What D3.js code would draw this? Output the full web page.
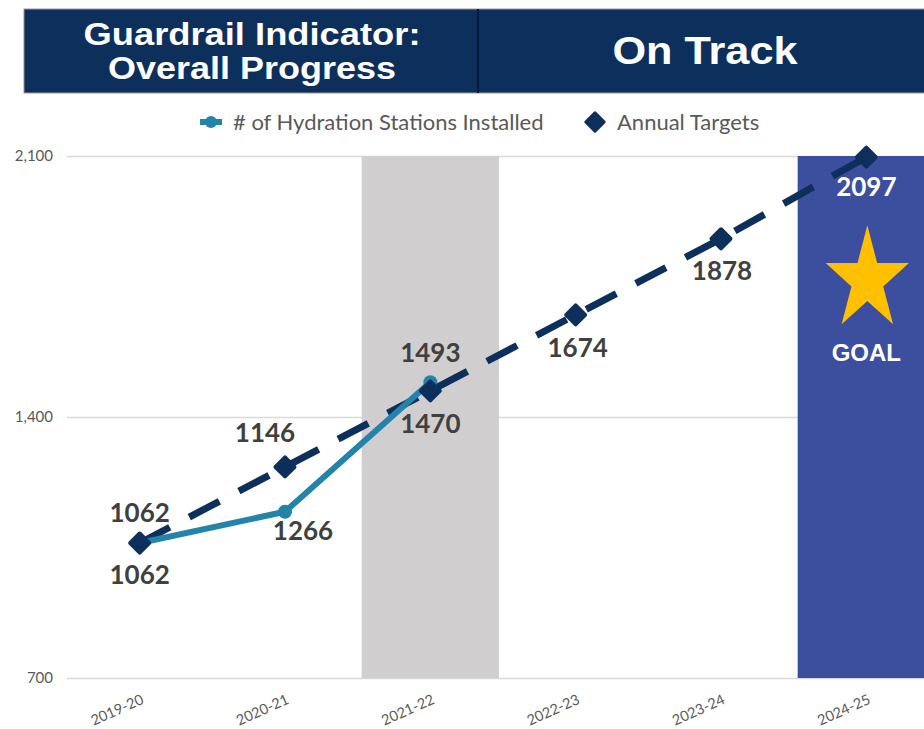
<!DOCTYPE html>
<html>
<head>
<meta charset="utf-8">
<script src="https://cdn.jsdelivr.net/npm/d3@7"></script>
<style>
  body { margin: 0; background: #fff; }
  svg { display: block; }
</style>
</head>
<body>
<div id="chart"></div>
<script>
// data
var years = ["2019-20", "2020-21", "2021-22", "2022-23", "2023-24", "2024-25"];
var installed = [1062, 1146, 1493];
var targets = [1062, 1266, 1470, 1674, 1878, 2097];
var yTicks = [700, 1400, 2100];
var currentYear = "2021-22";
var goalYear = "2024-25";
var titleLines = ["Guardrail Indicator:", "Overall Progress"];
var statusText = "On Track";
var legendNames = ["# of Hydration Stations Installed", "Annual Targets"];

// label nudges (pixels) so labels sit where the original has them
var installedLabelOff = [[0, 32], [-20, -79], [0, -29]];
var targetLabelOff = [[0, -30], [18, 64], [0, 33], [2, 33], [1, 32], [0, 30]];

var width = 924, height = 729;
var navy = "#0d2f5b", teal = "#2383a9", labelColor = "#404040";

var svg = d3.select("#chart").append("svg")
    .attr("width", width)
    .attr("height", height);

// header banner
var head = svg.append("g");
head.append("rect")
    .attr("x", 24).attr("y", 9)
    .attr("width", 920).attr("height", 84)
    .attr("fill", navy)
    .attr("stroke", "#9a9a9a").attr("stroke-width", 1);
head.append("line")
    .attr("x1", 478).attr("x2", 478).attr("y1", 9).attr("y2", 93)
    .attr("stroke", "#071a33").attr("stroke-width", 2);
head.selectAll("text.title")
    .data(titleLines)
  .enter().append("text")
    .attr("class", "title")
    .attr("x", 252)
    .attr("y", (d, i) => 45 + i * 34)
    .attr("text-anchor", "middle")
    .attr("fill", "#fff")
    .attr("textLength", (d, i) => i ? 288 : 337)
    .attr("lengthAdjust", "spacingAndGlyphs")
    .style("font", "bold 32px 'Liberation Sans', Arial, sans-serif")
    .text(d => d);
head.append("text")
    .attr("x", 705).attr("y", 64)
    .attr("text-anchor", "middle")
    .attr("fill", "#fff")
    .attr("textLength", 185)
    .attr("lengthAdjust", "spacingAndGlyphs")
    .style("font", "bold 38px 'Liberation Sans', Arial, sans-serif")
    .text(statusText);

// scales
var x = d3.scaleBand().domain(years).range([67, 939]).paddingInner(0.055).paddingOuter(0.0275);
var cx = d => x(d) + x.bandwidth() / 2;
var y = d3.scaleLinear().domain([700, 2100]).range([678, 156]);

// gridlines + y labels
var yAxis = svg.append("g")
    .attr("transform", "translate(67,0)")
    .call(d3.axisLeft(y).tickValues(yTicks).tickFormat(d3.format(",")).tickSize(-(width - 67)).tickPadding(14));
yAxis.select(".domain").remove();
yAxis.selectAll(".tick line").attr("stroke", "#d9d9d9").attr("stroke-width", 1.3);
yAxis.selectAll(".tick text")
    .attr("fill", "#595959")
    .style("font", "15px Lato, 'Open Sans', sans-serif");

// highlight bands
svg.append("rect")
    .attr("x", x(currentYear)).attr("width", x.bandwidth())
    .attr("y", y(2100)).attr("height", y(700) - y(2100))
    .attr("fill", "#d0cecf");
svg.append("rect")
    .attr("x", x(goalYear)).attr("width", x.bandwidth())
    .attr("y", y(2100)).attr("height", y(700) - y(2100))
    .attr("fill", "#3c4f9f");

// x labels
svg.append("g").selectAll("text")
    .data(years)
  .enter().append("text")
    .attr("transform", d => "translate(" + (cx(d) + 5) + ",703) rotate(-24)")
    .attr("text-anchor", "end")
    .attr("fill", "#595959")
    .style("font", "14.5px Lato, 'Open Sans', sans-serif")
    .text(d => d);

// star + goal text
var star = d3.symbol().type(d3.symbolStar).size(2150);
svg.append("path")
    .attr("d", star())
    .attr("transform", "translate(" + (cx(goalYear) + 1) + ",280) scale(1,1.25)")
    .attr("fill", "#ffc000");
svg.append("text")
    .attr("x", cx(goalYear)).attr("y", 361)
    .attr("text-anchor", "middle")
    .attr("fill", "#fff")
    .style("font", "bold 24px 'Liberation Sans', Arial, sans-serif")
    .text("GOAL");

// lines
var line = d3.line().x((d, i) => cx(years[i])).y(d => y(d));

svg.append("path")
    .datum(targets)
    .attr("d", line)
    .attr("fill", "none")
    .attr("stroke", navy)
    .attr("stroke-width", 7)
    .attr("stroke-dasharray", "34,22");

svg.append("path")
    .datum(installed)
    .attr("d", line)
    .attr("fill", "none")
    .attr("stroke", teal)
    .attr("stroke-width", 6)
    .attr("stroke-linejoin", "round");

svg.append("g").selectAll("circle")
    .data(installed)
  .enter().append("circle")
    .attr("cx", (d, i) => cx(years[i]))
    .attr("cy", d => y(d))
    .attr("r", 7)
    .attr("fill", teal);

var diamond = d3.symbol().type(d3.symbolSquare).size(180);
svg.append("g").selectAll("path")
    .data(targets)
  .enter().append("path")
    .attr("d", diamond())
    .attr("transform", (d, i) => "translate(" + cx(years[i]) + "," + y(d) + ") rotate(45)")
    .attr("fill", navy)
    .attr("stroke", navy)
    .attr("stroke-width", 4)
    .attr("stroke-linejoin", "round");

// data labels
var labelFont = "bold 26px Lato, 'Open Sans', sans-serif";
svg.append("g").selectAll("text")
    .data(installed)
  .enter().append("text")
    .attr("x", (d, i) => cx(years[i]) + installedLabelOff[i][0])
    .attr("y", (d, i) => y(d) + installedLabelOff[i][1])
    .attr("dy", "0.35em")
    .attr("text-anchor", "middle")
    .attr("fill", labelColor)
    .style("font", labelFont)
    .text(d => d);
svg.append("g").selectAll("text")
    .data(targets)
  .enter().append("text")
    .attr("x", (d, i) => cx(years[i]) + targetLabelOff[i][0])
    .attr("y", (d, i) => y(d) + targetLabelOff[i][1])
    .attr("dy", "0.35em")
    .attr("text-anchor", "middle")
    .attr("fill", (d, i) => years[i] === goalYear ? "#fff" : labelColor)
    .style("font", labelFont)
    .text(d => d);

// legend
var leg = svg.append("g").attr("transform", "translate(0,122)");
leg.append("line")
    .attr("x1", 200).attr("x2", 222)
    .attr("stroke", teal).attr("stroke-width", 6);
leg.append("circle").attr("cx", 211).attr("r", 6).attr("fill", teal);
leg.append("text")
    .attr("x", 233).attr("dy", "0.35em")
    .attr("fill", "#595959")
    .style("font", "22px Lato, 'Open Sans', sans-serif")
    .text(legendNames[0]);
leg.append("path")
    .attr("d", d3.symbol().type(d3.symbolSquare).size(170)())
    .attr("transform", "translate(595,0) rotate(45)")
    .attr("fill", navy).attr("stroke", navy).attr("stroke-width", 3).attr("stroke-linejoin", "round");
leg.append("text")
    .attr("x", 617).attr("dy", "0.35em")
    .attr("fill", "#595959")
    .style("font", "22px Lato, 'Open Sans', sans-serif")
    .text(legendNames[1]);
</script>
</body>
</html>
